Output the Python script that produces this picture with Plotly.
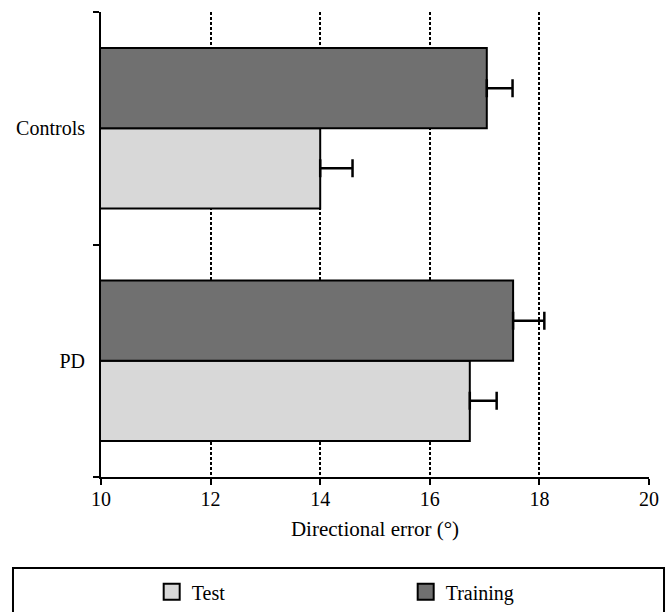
import plotly.graph_objects as go

categories = ["PD", "Controls"]
series_names = ["Test", "Training"]
test_values = [16.73, 14.00]
test_errors = [0.49, 0.59]
training_values = [17.52, 17.04]
training_errors = [0.57, 0.47]
x_ticks = [10, 12, 14, 16, 18, 20]

colors = {"Test": "#d8d8d8", "Training": "#707070"}
FONT = "Liberation Serif, Times New Roman, serif"

fig = go.Figure()
for name, vals, errs in [("Test", test_values, test_errors),
                         ("Training", training_values, training_errors)]:
    fig.add_trace(go.Bar(
        y=categories, x=vals, orientation="h", name=name, showlegend=False,
        marker=dict(color=colors[name], line=dict(color="black", width=2)),
        error_x=dict(type="data", array=errs, arrayminus=[0] * len(errs),
                     symmetric=False, color="black", thickness=2.5, width=9),
    ))
    # legend stand-in with a larger square symbol
    fig.add_trace(go.Scatter(
        x=[None], y=[None], mode="markers", name=name,
        marker=dict(symbol="square", size=16, color=colors[name],
                    line=dict(color="black", width=2)),
    ))

fig.update_layout(
    width=671, height=612,
    margin=dict(l=101, r=22, t=12, b=135, autoexpand=False),
    paper_bgcolor="white", plot_bgcolor="white",
    font=dict(family=FONT, size=20, color="black"),
    barmode="group", bargap=0.31, bargroupgap=0,
    showlegend=True,
    legend=dict(orientation="h", x=0.0925, xanchor="left", y=-0.247, yanchor="middle",
                entrywidth=209, entrywidthmode="pixels", bgcolor="rgba(0,0,0,0)",
                font=dict(family=FONT, size=20), traceorder="normal"),
    xaxis=dict(range=[10, 20], tickvals=x_ticks, ticktext=[str(t) for t in x_ticks],
               showline=True, linecolor="black", linewidth=2,
               ticks="outside", ticklen=6, tickwidth=2, tickcolor="black",
               ticklabelstandoff=-3,
               showgrid=True, gridcolor="black", gridwidth=2, griddash="3px,2px",
               zeroline=False,
               title=dict(text="Directional error (°)", font=dict(size=21), standoff=12)),
    yaxis=dict(type="category", categoryorder="array", categoryarray=categories,
               range=[-0.5, 1.5], tickson="boundaries",
               showline=True, linecolor="black", linewidth=2,
               ticks="outside", ticklen=6, tickwidth=2, tickcolor="black",
               showgrid=False, zeroline=False, ticklabelstandoff=10),
    shapes=[dict(type="rect", xref="paper", yref="paper",
                 x0=-0.1606, x1=1.0274, y0=-0.1957, y1=-0.30,
                 line=dict(color="black", width=2), fillcolor="rgba(0,0,0,0)")],
)

fig.write_html("out.html", config={"displayModeBar": False},
               post_script="document.body.style.margin='0';")
